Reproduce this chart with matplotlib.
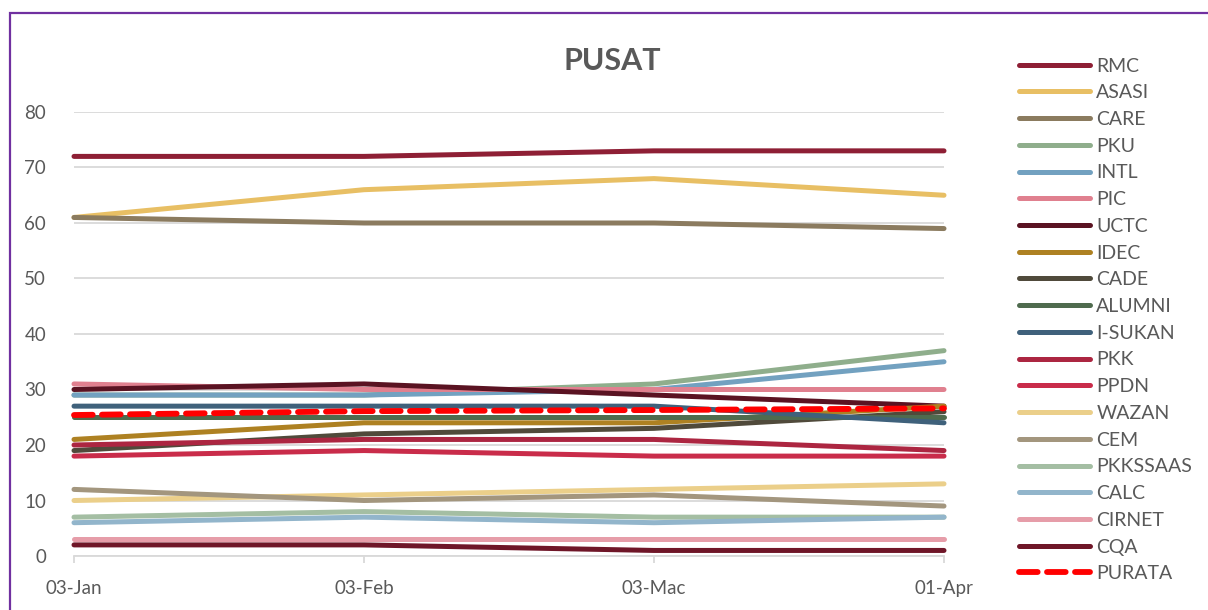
import matplotlib
matplotlib.use("Agg")
from matplotlib import pyplot as plt
from matplotlib.patches import Rectangle

plt.rcParams['font.family'] = ['Lato', 'DejaVu Sans']

dates = ['03-Jan', '03-Feb', '03-Mac', '01-Apr']

rmc = [72, 72, 73, 73]
asasi = [61, 66, 68, 65]
care = [61, 60, 60, 59]
pku = [29, 29, 31, 37]
intl = [29, 29, 30, 35]
pic = [31, 30, 30, 30]
uctc = [30, 31, 29, 27]
idec = [21, 24, 24, 27]
cade = [19, 22, 23, 26]
alumni = [25, 25, 25, 25]
isukan = [27, 27, 27, 24]
pkk = [20, 21, 21, 19]
ppdn = [18, 19, 18, 18]
wazan = [10, 11, 12, 13]
cem = [12, 10, 11, 9]
pkkssaas = [7, 8, 7, 7]
calc = [6, 7, 6, 7]
cirnet = [3, 3, 3, 3]
cqa = [2, 2, 1, 1]
purata = [25.4, 26.1, 26.3, 26.6]

series = [
    ('RMC', rmc, '#8E1F35'),
    ('ASASI', asasi, '#E8BF64'),
    ('CARE', care, '#8B7B5F'),
    ('PKU', pku, '#8FAE8C'),
    ('INTL', intl, '#72A1C0'),
    ('PIC', pic, '#E0808F'),
    ('UCTC', uctc, '#5A1322'),
    ('IDEC', idec, '#AE8122'),
    ('CADE', cade, '#504A3B'),
    ('ALUMNI', alumni, '#4F6B4E'),
    ('I-SUKAN', isukan, '#3F617B'),
    ('PKK', pkk, '#AC2641'),
    ('PPDN', ppdn, '#C92C4A'),
    ('WAZAN', wazan, '#EBCF8A'),
    ('CEM', cem, '#A3967E'),
    ('PKKSSAAS', pkkssaas, '#A4BEA3'),
    ('CALC', calc, '#92B5CB'),
    ('CIRNET', cirnet, '#E69DA9'),
    ('CQA', cqa, '#6F1628'),
]

txt = '#595959'
grid = '#D9D9D9'

fig = plt.figure(figsize=(12.08, 6.10), dpi=100)
fig.patches.append(Rectangle((10 / 1208, -0.1), 1.2, 1 - 13 / 610 + 0.1,
                             transform=fig.transFigure, fill=False,
                             edgecolor='#7030A0', linewidth=1.6))

ax = fig.add_axes([74 / 1208, 54 / 610, 870 / 1208, 444 / 610])
x = list(range(len(dates)))

for name, vals, col in series:
    ax.plot(x, vals, color=col, lw=3.6, label=name, solid_capstyle='round', clip_on=False)
ax.plot(x, purata, color='#FF0000', lw=4.2, ls=(0, (3.2, 1.6)), label='PURATA',
        dash_capstyle='round', clip_on=False)

ax.set_xlim(0, 3)
ax.set_ylim(0, 80)
ax.set_yticks(range(0, 81, 10))
ax.set_xticks(x)
ax.set_xticklabels(dates)
ax.grid(axis='y', color=grid, lw=1.3)
ax.set_axisbelow(True)
for s in ['top', 'right', 'left']:
    ax.spines[s].set_visible(False)
ax.spines['bottom'].set_color(grid)
ax.spines['bottom'].set_linewidth(1.3)
ax.tick_params(axis='y', length=0, pad=20, labelsize=13.5, labelcolor=txt)
ax.tick_params(axis='x', length=5, width=1.3, color=grid, pad=12, labelsize=13.5, labelcolor=txt)

fig.text(0.507, 0.9, 'PUSAT', ha='center', va='center', fontsize=22,
         fontweight='bold', color=txt)

leg = fig.legend(loc='upper left', bbox_to_anchor=(1001 / 1208, 1 - 40 / 610),
                 frameon=False, fontsize=14, labelcolor=txt, handlelength=3.7,
                 handletextpad=0.3, labelspacing=0.5)

fig.savefig('out.png', dpi=100)
